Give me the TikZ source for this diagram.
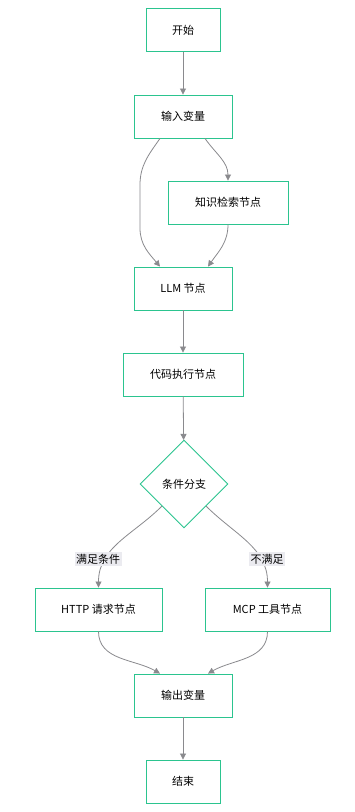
\documentclass[tikz,border=0pt]{standalone}
\usepackage{fontspec}
\setmainfont{Noto Sans CJK SC}
\usepackage{tikz}
\usetikzlibrary{arrows.meta,positioning,shapes.geometric,calc}
\definecolor{flowgreen}{HTML}{2BC48F}
\definecolor{flowgray}{HTML}{8A8A8E}
\definecolor{flowlabel}{HTML}{EBEBF0}
\tikzset{
  box/.style={draw=flowgreen, line width=0.9pt, fill=white, align=center, minimum height=43pt, inner sep=2pt, font=\fontsize{11}{13}\selectfont},
  decision/.style={diamond, draw=flowgreen, line width=0.9pt, fill=white, align=center, minimum size=88pt, inner sep=0pt, font=\fontsize{11}{13}\selectfont},
  lbl/.style={fill=flowlabel, inner sep=1.5pt, font=\fontsize{11}{13}\selectfont},
  arrow/.style={-{Triangle[length=6pt,width=6pt]}, line width=0.8pt, draw=flowgray}
}

\begin{document}
\begin{tikzpicture}[x=1pt, y=1pt]
  \useasboundingbox[fill=white] (0,0) rectangle (355,-812);
  \node[box, minimum width=74pt] (start) at (183,-30) {开始};
  \node[box, minimum width=98pt] (input) at (183,-116.5) {输入变量};
  \node[box, minimum width=120pt] (kb) at (228,-202.5) {知识检索节点};
  \node[box, minimum width=98pt] (llm) at (183,-288.5) {LLM 节点};
  \node[box, minimum width=120pt] (code) at (183,-374.5) {代码执行节点};
  \node[decision] (cond) at (184,-484) {条件分支};
  \node[box, minimum width=127pt] (http) at (98.5,-609.5) {HTTP 请求节点};
  \node[box, minimum width=125pt] (mcp) at (267.5,-609.5) {MCP 工具节点};
  \node[box, minimum width=98pt] (output) at (183,-695.5) {输出变量};
  \node[box, minimum width=74pt] (finish) at (183,-781.5) {结束};

  \draw[arrow] (start) -- (input);
  \draw[arrow] ($(input.south)+(22,0)$) to[out=-55,in=90] (kb.north);
  \draw[arrow] ($(input.south)+(-23,0)$) to[out=-125,in=90] (140,-185) -- (140,-228) to[out=-90,in=130] ($(llm.north)+(-23,0)$);
  \draw[arrow] (kb.south) to[out=-90,in=55] ($(llm.north)+(25,0)$);
  \draw[arrow] (llm) -- (code);
  \draw[arrow] (code) -- (cond);
  \draw[arrow] (cond.south west) to[out=-135,in=90] (http.north);
  \draw[arrow] (cond.south east) to[out=-45,in=90] (mcp.north);
  \draw[arrow] (http.south) to[out=-90,in=150] ($(output.north)+(-23,0)$);
  \draw[arrow] (mcp.south) to[out=-90,in=30] ($(output.north)+(25,0)$);
  \draw[arrow] (output) -- (finish);

  \node[lbl] (yes) at (98,-559) {满足条件};
  \node[lbl] (no) at (267,-559) {不满足};
\end{tikzpicture}
\end{document}
